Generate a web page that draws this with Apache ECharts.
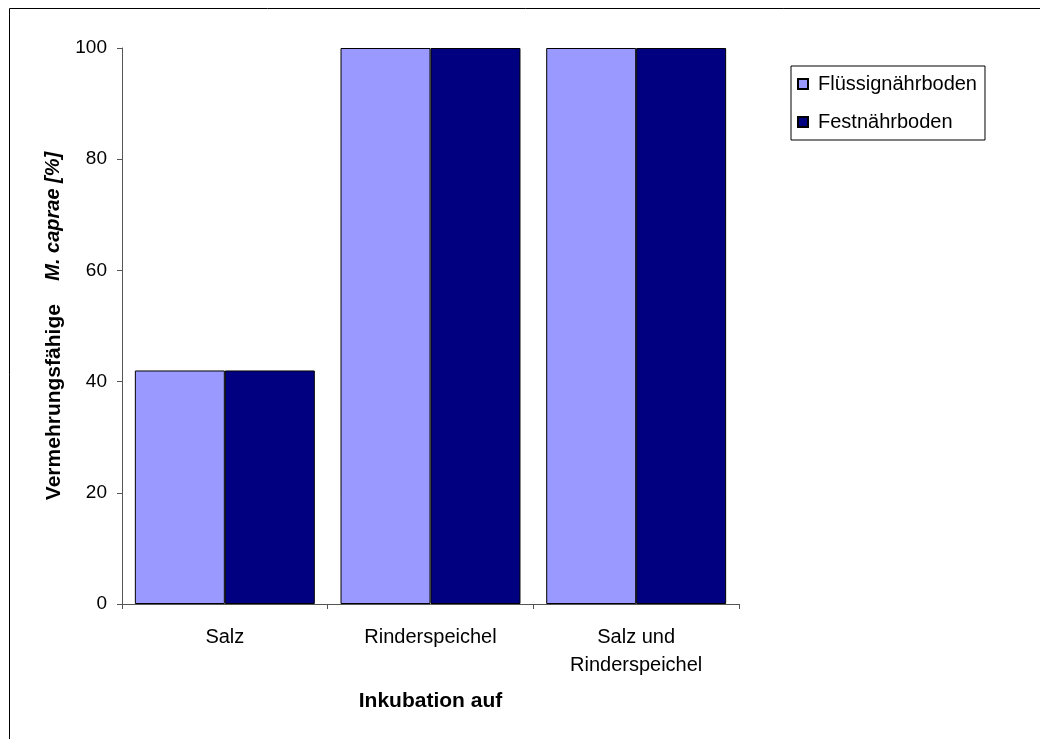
<!DOCTYPE html>
<html>
<head>
<meta charset="utf-8">
<script src="https://cdn.jsdelivr.net/npm/echarts@6/dist/echarts.min.js"></script>
<style>
  html, body { margin: 0; padding: 0; background: #fff; }
  #chart { width: 1040px; height: 739px; }
</style>
</head>
<body>
<div id="chart"></div>
<script>
// Incubation conditions and share of viable M. caprae (%)
const categories = ['Salz', 'Rinderspeichel', 'Salz und\nRinderspeichel'];
const seriesNames = ['Flüssignährboden', 'Festnährboden'];
const fluessig = [42, 100, 100];
const fest = [42, 100, 100];
const yTicks = { min: 0, max: 100, interval: 20 };

const FONT = '"Liberation Sans", Arial, sans-serif';
const chart = echarts.init(document.getElementById('chart'));

chart.setOption({
  backgroundColor: '#ffffff',
  animation: false,
  graphic: [{
    type: 'rect',
    shape: { x: 9.5, y: 8.5, width: 1200, height: 900 },
    style: { fill: 'none', stroke: '#000', lineWidth: 1 },
    silent: true
  }],
  grid: { left: 122, right: 301, top: 48, bottom: 135, containLabel: false },
  legend: {
    orient: 'vertical',
    left: 791,
    top: 66,
    padding: [7, 8, 7, 6],
    itemWidth: 10,
    itemHeight: 10,
    itemGap: 16,
    icon: 'rect',
    borderColor: '#000',
    borderWidth: 1,
    backgroundColor: '#fff',
    textStyle: { fontFamily: FONT, fontSize: 20, color: '#000', lineHeight: 22, padding: [0, 0, 0, 5] },
    data: seriesNames
  },
  xAxis: {
    type: 'category',
    data: categories,
    name: 'Inkubation auf',
    nameLocation: 'middle',
    nameGap: 87,
    nameTextStyle: { fontFamily: FONT, fontSize: 21, fontWeight: 'bold', color: '#000' },
    axisLine: { lineStyle: { color: '#555', width: 1 } },
    axisTick: { show: true, length: 5, inside: false, lineStyle: { color: '#555' } },
    axisLabel: { fontFamily: FONT, fontSize: 20, color: '#000', margin: 19, lineHeight: 28 }
  },
  yAxis: {
    type: 'value',
    min: yTicks.min,
    max: yTicks.max,
    interval: yTicks.interval,
    name: '{b|Vermehrungsfähige}    {i|M. caprae [%]}',
    nameLocation: 'middle',
    nameRotate: 90,
    nameGap: 56,
    nameTextStyle: {
      fontFamily: FONT, fontSize: 21, fontWeight: 'bold', color: '#000',
      rich: {
        b: { fontFamily: FONT, fontSize: 21, fontWeight: 'bold', color: '#000' },
        i: { fontFamily: FONT, fontSize: 20, fontWeight: 'bold', fontStyle: 'italic', color: '#000' }
      }
    },
    axisLine: { show: true, lineStyle: { color: '#555', width: 1 } },
    axisTick: { show: true, length: 5, inside: false, lineStyle: { color: '#555' } },
    axisLabel: { fontFamily: FONT, fontSize: 19, color: '#000', margin: 15 },
    splitLine: { show: false }
  },
  series: [
    {
      name: seriesNames[0],
      type: 'bar',
      data: fluessig,
      barGap: '0%',
      barCategoryGap: '12.5%',
      itemStyle: { color: '#9999FF', borderColor: '#000', borderWidth: 1 }
    },
    {
      name: seriesNames[1],
      type: 'bar',
      data: fest,
      barGap: '0%',
      barCategoryGap: '12.5%',
      itemStyle: { color: '#000080', borderColor: '#000', borderWidth: 1 }
    }
  ]
});
</script>
</body>
</html>
